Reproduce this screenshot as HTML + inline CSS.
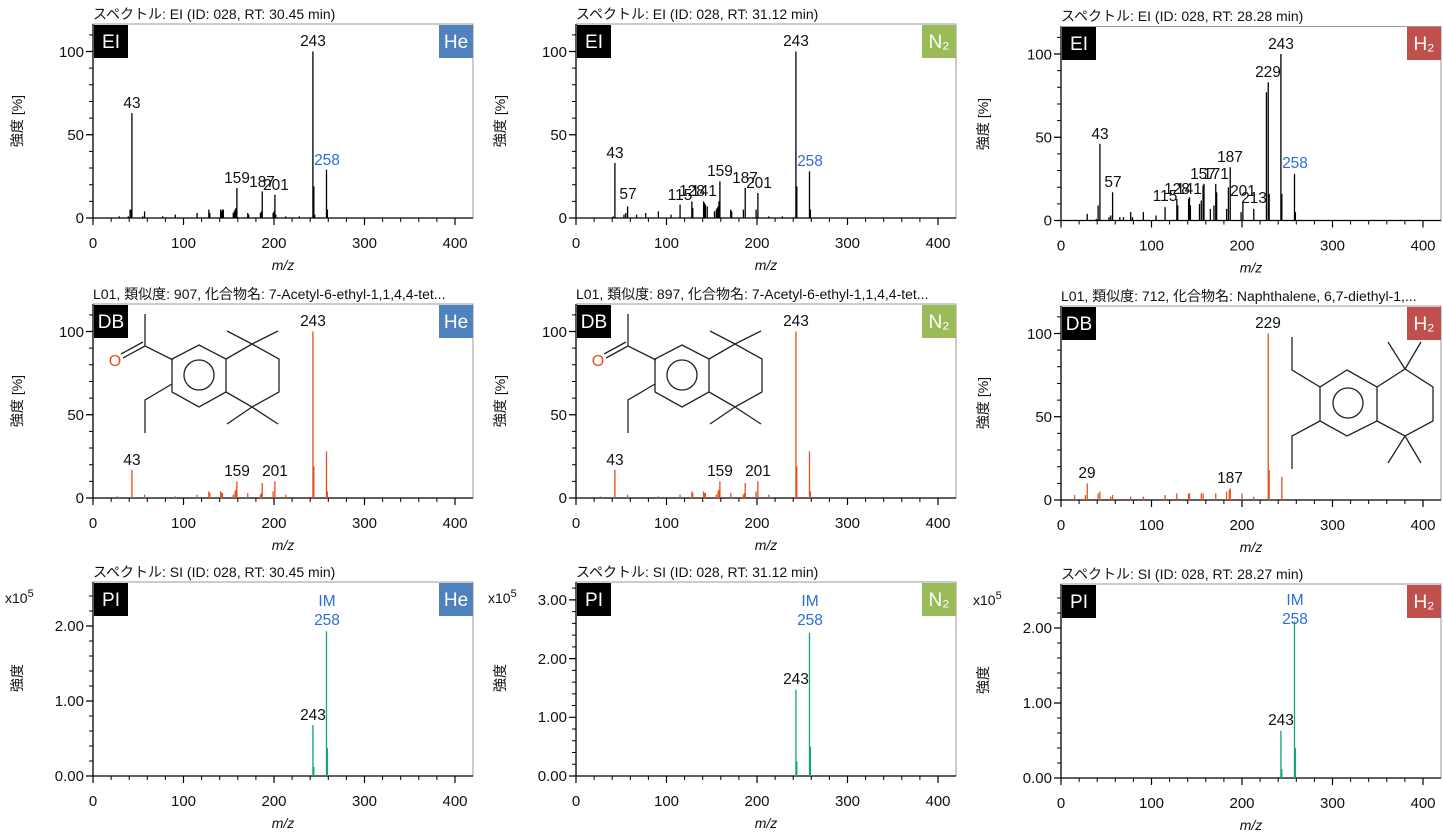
<!DOCTYPE html>
<html><head><meta charset="utf-8"><style>
body{margin:0;background:#fff;}
svg{display:block;font-family:"Liberation Sans","Noto Sans CJK JP",sans-serif;}
.t{font-size:14px;fill:#111;}
.tk{font-size:15px;fill:#111;}
.pl{font-size:15.5px;fill:#111;text-anchor:middle;}
.bl{fill:#2a6fdb;}
.bd{font-size:19px;fill:#fff;text-anchor:middle;}
.ax{font-size:14px;font-style:italic;fill:#111;text-anchor:middle;}
.yl{font-size:14px;fill:#111;}
.pk{fill:none;stroke-width:1.3;}
.pk path{vector-effect:non-scaling-stroke;}
.st{stroke:#222;stroke-width:1.3;fill:none;}
</style></head><body>
<svg width="1443" height="832" viewBox="0 0 1443 832">
<defs>
<g id="fx">
<rect x="0" y="-194" width="380" height="194" fill="none" stroke="#999" stroke-width="1"/>
<path d="M0 0H380M0 0V-194" stroke="#000" stroke-width="1.3"/>
<path d="M0 0v7M90.5 0v7M181 0v7M271.5 0v7M362 0v7" stroke="#000" stroke-width="1.2"/>
<path d="M18.1 0v4M36.2 0v4M54.3 0v4M72.4 0v4M108.6 0v4M126.7 0v4M144.8 0v4M162.9 0v4M199.1 0v4M217.2 0v4M235.3 0v4M253.4 0v4M289.6 0v4M307.7 0v4M325.8 0v4M343.9 0v4" stroke="#000" stroke-width="1"/>
</g>
<g id="yp">
<path d="M0 0h-7M0 -83.25h-7M0 -166.5h-7" stroke="#000" stroke-width="1.2"/>
<path d="M0 -16.65h-4M0 -33.3h-4M0 -49.95h-4M0 -66.6h-4M0 -99.9h-4M0 -116.55h-4M0 -133.2h-4M0 -149.85h-4M0 -183.15h-4" stroke="#000" stroke-width="1"/>
</g>
<g id="ys">
<path d="M0 0h-7M0 -75h-7M0 -150h-7" stroke="#000" stroke-width="1.2"/>
<path d="M0 -15h-4M0 -30h-4M0 -45h-4M0 -60h-4M0 -90h-4M0 -105h-4M0 -120h-4M0 -135h-4M0 -165h-4M0 -180h-4" stroke="#000" stroke-width="1"/>
</g>
<g id="ym">
<path d="M0 0h-7M0 -58.7h-7M0 -117.4h-7M0 -176.1h-7" stroke="#000" stroke-width="1.2"/>
<path d="M0 -11.74h-4M0 -23.48h-4M0 -35.22h-4M0 -46.96h-4M0 -70.44h-4M0 -82.18h-4M0 -93.92h-4M0 -105.66h-4M0 -129.14h-4M0 -140.88h-4M0 -152.62h-4M0 -164.36h-4M0 -187.84h-4" stroke="#000" stroke-width="1"/>
</g>
<g id="xl" class="tk" text-anchor="middle">
<text x="0" y="30">0</text><text x="90.5" y="30">100</text><text x="181" y="30">200</text><text x="271.5" y="30">300</text><text x="362" y="30">400</text>
</g>
<g id="s1">
<path d="M80 -38L52 -52V-84M52 -52L30 -40M50 -56L28 -44M79 -14L52 2V35"/>
<polygon points="106,-53 133,-39 133,-6 106,9 79,-6 79,-39"/>
<circle cx="106" cy="-23" r="15"/>
<path d="M133 -39L159 -54L186 -39V-6L159 9L133 -6M159 -54L134 -67M159 -54L185 -67M159 9L134 26M159 9L185 26"/>
</g>
</defs>

<!-- ROW 1 -->
<g transform="translate(93,218)"><use href="#fx"/><use href="#yp"/><use href="#xl"/>
<text class="tk" x="-9" y="5" text-anchor="end">0</text><text class="tk" x="-9" y="-78" text-anchor="end">50</text><text class="tk" x="-9" y="-161" text-anchor="end">100</text>
<text class="ax" x="190" y="52">m/z</text>
<g class="pk" transform="scale(0.905,-1.665)" stroke="#000"><path d="M29 0V1M39 0V1M41 0V5M42 0V5M43 0V63M55 0V1M57 0V4M77 0V1M91 0V2M115 0V3M128 0V5M129 0V3M141 0V5M142 0V4M143 0V5M144 0V5M155 0V3M156 0V4M157 0V5M158 0V6M159 0V18M171 0V3M172 0V2M185 0V3M186 0V4M187 0V16M199 0V3M200 0V4M201 0V14M202 0V2M213 0V1M228 0V1M243 0V100M244 0V19M245 0V2M258 0V29M259 0V5"/></g>
</g>
<g transform="translate(576,218)"><use href="#fx"/><use href="#yp"/><use href="#xl"/>
<text class="tk" x="-9" y="5" text-anchor="end">0</text><text class="tk" x="-9" y="-78" text-anchor="end">50</text><text class="tk" x="-9" y="-161" text-anchor="end">100</text>
<text class="ax" x="190" y="52">m/z</text>
<g class="pk" transform="scale(0.905,-1.665)" stroke="#000"><path d="M41 0V1M43 0V33M53 0V2M55 0V3M57 0V7M67 0V2M77 0V3M91 0V4M105 0V2M115 0V8M128 0V10M129 0V6M141 0V10M142 0V9M143 0V8M145 0V7M153 0V4M155 0V5M156 0V6M157 0V7M158 0V10M159 0V22M171 0V5M172 0V4M185 0V5M187 0V18M199 0V5M201 0V15M213 0V1M228 0V1M243 0V100M244 0V19M258 0V28M259 0V5"/></g>
</g>
<g transform="translate(1061,220.5)"><use href="#fx"/><use href="#yp"/><use href="#xl"/>
<text class="tk" x="-9" y="5" text-anchor="end">0</text><text class="tk" x="-9" y="-78" text-anchor="end">50</text><text class="tk" x="-9" y="-161" text-anchor="end">100</text>
<text class="ax" x="190" y="52">m/z</text>
<g class="pk" transform="scale(0.905,-1.665)" stroke="#000"><path d="M29 0V4M39 0V1M41 0V9M43 0V46M53 0V2M55 0V3M57 0V17M65 0V2M69 0V2M77 0V5M79 0V2M91 0V5M105 0V3M115 0V8M128 0V13M129 0V9M141 0V13M142 0V14M143 0V9M153 0V10M155 0V12M157 0V21M158 0V22M165 0V7M169 0V9M171 0V22M172 0V17M183 0V7M185 0V20M187 0V32M199 0V5M201 0V11M213 0V7M227 0V77M229 0V83M230 0V16M243 0V100M244 0V16M258 0V28M259 0V5"/></g>
</g>
<text class="t" x="93" y="19">スペクトル: EI (ID: 028, RT: 30.45 min)</text>
<text class="t" x="576" y="19">スペクトル: EI (ID: 028, RT: 31.12 min)</text>
<text class="t" x="1061" y="21">スペクトル: EI (ID: 028, RT: 28.28 min)</text>
<text class="pl" x="132" y="108">43</text><text class="pl" x="237" y="183">159</text><text class="pl" x="262" y="187">187</text><text class="pl" x="276" y="190">201</text><text class="pl" x="313" y="46">243</text><text class="pl bl" x="327" y="165">258</text>
<text class="pl" x="615" y="158">43</text><text class="pl" x="628" y="199">57</text><text class="pl" x="680" y="200">115</text><text class="pl" x="692" y="196">128</text><text class="pl" x="704" y="196">141</text><text class="pl" x="720" y="176">159</text><text class="pl" x="745" y="183">187</text><text class="pl" x="759" y="188">201</text><text class="pl" x="796" y="46">243</text><text class="pl bl" x="810" y="166">258</text>
<text class="pl" x="1100" y="139">43</text><text class="pl" x="1113" y="187">57</text><text class="pl" x="1165" y="201">115</text><text class="pl" x="1177" y="194">128</text><text class="pl" x="1189" y="194">141</text><text class="pl" x="1203" y="179">157</text><text class="pl" x="1216" y="179">171</text><text class="pl" x="1230" y="162">187</text><text class="pl" x="1243" y="196">201</text><text class="pl" x="1254" y="203">213</text><text class="pl" x="1268" y="77">229</text><text class="pl" x="1281" y="49">243</text><text class="pl bl" x="1295" y="168">258</text>

<!-- ROW 2 -->
<g transform="translate(93,498)"><use href="#fx"/><use href="#yp"/><use href="#xl"/>
<text class="tk" x="-9" y="5" text-anchor="end">0</text><text class="tk" x="-9" y="-78" text-anchor="end">50</text><text class="tk" x="-9" y="-161" text-anchor="end">100</text>
<text class="ax" x="190" y="52">m/z</text>
<g class="pk" transform="scale(0.905,-1.665)" stroke="#e0531c"><path d="M27 0V1M43 0V17M57 0V2M91 0V1M115 0V2M128 0V4M129 0V3M141 0V4M142 0V3M143 0V3M155 0V2M157 0V4M158 0V5M159 0V10M171 0V3M185 0V2M186 0V3M187 0V9M199 0V4M201 0V10M213 0V2M243 0V100M244 0V19M258 0V28M259 0V4"/></g>
</g>
<g transform="translate(576,498)"><use href="#fx"/><use href="#yp"/><use href="#xl"/>
<text class="tk" x="-9" y="5" text-anchor="end">0</text><text class="tk" x="-9" y="-78" text-anchor="end">50</text><text class="tk" x="-9" y="-161" text-anchor="end">100</text>
<text class="ax" x="190" y="52">m/z</text>
<g class="pk" transform="scale(0.905,-1.665)" stroke="#e0531c"><path d="M27 0V1M43 0V17M57 0V2M91 0V1M115 0V2M128 0V4M129 0V3M141 0V4M142 0V3M143 0V3M155 0V2M157 0V4M158 0V5M159 0V10M171 0V3M185 0V2M186 0V3M187 0V9M199 0V4M201 0V10M213 0V2M243 0V100M244 0V19M258 0V28M259 0V4"/></g>
</g>
<g transform="translate(1061,500)"><use href="#fx"/><use href="#yp"/><use href="#xl"/>
<text class="tk" x="-9" y="5" text-anchor="end">0</text><text class="tk" x="-9" y="-78" text-anchor="end">50</text><text class="tk" x="-9" y="-161" text-anchor="end">100</text>
<text class="ax" x="190" y="52">m/z</text>
<g class="pk" transform="scale(0.905,-1.665)" stroke="#e0531c"><path d="M15 0V3M27 0V3M29 0V10M41 0V4M43 0V5M55 0V2M57 0V3M77 0V2M91 0V2M115 0V3M128 0V4M141 0V4M142 0V4M155 0V4M157 0V4M171 0V4M183 0V5M186 0V6M187 0V7M200 0V4M213 0V2M229 0V100M230 0V18M244 0V14"/></g>
</g>
<text class="t" x="93" y="299">L01, 類似度: 907, 化合物名: 7-Acetyl-6-ethyl-1,1,4,4-tet...</text>
<text class="t" x="576" y="299">L01, 類似度: 897, 化合物名: 7-Acetyl-6-ethyl-1,1,4,4-tet...</text>
<text class="t" x="1061" y="301">L01, 類似度: 712, 化合物名: Naphthalene, 6,7-diethyl-1,...</text>
<text class="pl" x="132" y="465">43</text><text class="pl" x="237" y="476">159</text><text class="pl" x="275" y="476">201</text><text class="pl" x="313" y="326">243</text>
<text class="pl" x="615" y="465">43</text><text class="pl" x="720" y="476">159</text><text class="pl" x="758" y="476">201</text><text class="pl" x="796" y="326">243</text>
<text class="pl" x="1087" y="478">29</text><text class="pl" x="1230" y="483">187</text><text class="pl" x="1268" y="328">229</text>
<!-- structures -->
<g class="st" transform="translate(93,398)"><use href="#s1"/></g>
<g class="st" transform="translate(576,398)"><use href="#s1"/></g>
<text x="115" y="366" font-size="16" fill="#e0531c" text-anchor="middle">O</text>
<text x="598" y="366" font-size="16" fill="#e0531c" text-anchor="middle">O</text>
<g class="st">
<polygon points="1347,370 1377,387 1377,421 1347,436 1320,421 1320,387"/>
<circle cx="1348" cy="403" r="15"/>
<path d="M1377 387L1405 369L1433 387V421L1405 436L1377 421M1405 369L1388 342M1405 369L1421 342M1405 436L1388 463M1405 436L1421 463M1320 387L1292 370V337M1320 421L1292 436V469"/>
</g>

<!-- ROW 3 -->
<g transform="translate(93,776)"><use href="#fx"/><use href="#ys"/><use href="#xl"/>
<text class="tk" x="-9" y="5" text-anchor="end">0.00</text><text class="tk" x="-9" y="-70" text-anchor="end">1.00</text><text class="tk" x="-9" y="-145" text-anchor="end">2.00</text>
<text class="ax" x="190" y="52">m/z</text>
<g class="pk" transform="scale(0.905,-75)" stroke="#14a37f"><path d="M243 0V0.68M244 0V0.12M258 0V1.93M259 0V0.37"/></g>
</g>
<g transform="translate(576,776)"><use href="#fx"/><use href="#ym"/><use href="#xl"/>
<text class="tk" x="-9" y="5" text-anchor="end">0.00</text><text class="tk" x="-9" y="-54" text-anchor="end">1.00</text><text class="tk" x="-9" y="-112" text-anchor="end">2.00</text><text class="tk" x="-9" y="-171" text-anchor="end">3.00</text>
<text class="ax" x="190" y="52">m/z</text>
<g class="pk" transform="scale(0.905,-58.7)" stroke="#14a37f"><path d="M243 0V1.47M244 0V0.25M258 0V2.44M259 0V0.5"/></g>
</g>
<g transform="translate(1061,778)"><use href="#fx"/><use href="#ys"/><use href="#xl"/>
<text class="tk" x="-9" y="5" text-anchor="end">0.00</text><text class="tk" x="-9" y="-70" text-anchor="end">1.00</text><text class="tk" x="-9" y="-145" text-anchor="end">2.00</text>
<text class="ax" x="190" y="52">m/z</text>
<g class="pk" transform="scale(0.905,-75)" stroke="#14a37f"><path d="M243 0V0.63M244 0V0.12M258 0V2.09M259 0V0.4"/></g>
</g>
<text class="t" x="93" y="577">スペクトル: SI (ID: 028, RT: 30.45 min)</text>
<text class="t" x="576" y="577">スペクトル: SI (ID: 028, RT: 31.12 min)</text>
<text class="t" x="1061" y="579">スペクトル: SI (ID: 028, RT: 28.27 min)</text>
<text class="pl" x="313" y="720">243</text><text class="pl bl" x="327" y="606">IM</text><text class="pl bl" x="327" y="625">258</text>
<text class="pl" x="796" y="684">243</text><text class="pl bl" x="810" y="606">IM</text><text class="pl bl" x="810" y="625">258</text>
<text class="pl" x="1281" y="725">243</text><text class="pl bl" x="1295" y="605">IM</text><text class="pl bl" x="1295" y="624">258</text>
<text class="yl" x="5" y="603">x10<tspan font-size="11" dy="-6">5</tspan></text>
<text class="yl" x="488" y="603">x10<tspan font-size="11" dy="-6">5</tspan></text>
<text class="yl" x="973" y="605">x10<tspan font-size="11" dy="-6">5</tspan></text>

<!-- y labels -->
<text class="yl" transform="translate(22,121) rotate(-90)" text-anchor="middle">強度 [%]</text>
<text class="yl" transform="translate(505,121) rotate(-90)" text-anchor="middle">強度 [%]</text>
<text class="yl" transform="translate(988,124) rotate(-90)" text-anchor="middle">強度 [%]</text>
<text class="yl" transform="translate(22,401) rotate(-90)" text-anchor="middle">強度 [%]</text>
<text class="yl" transform="translate(505,401) rotate(-90)" text-anchor="middle">強度 [%]</text>
<text class="yl" transform="translate(988,403) rotate(-90)" text-anchor="middle">強度 [%]</text>
<text class="yl" transform="translate(22,678) rotate(-90)" text-anchor="middle">強度</text>
<text class="yl" transform="translate(505,678) rotate(-90)" text-anchor="middle">強度</text>
<text class="yl" transform="translate(988,680) rotate(-90)" text-anchor="middle">強度</text>

<!-- badges -->
<g>
<rect x="94" y="25" width="34" height="33" fill="#000"/><text class="bd" x="111" y="48">EI</text>
<rect x="577" y="25" width="34" height="33" fill="#000"/><text class="bd" x="594" y="48">EI</text>
<rect x="1062" y="27" width="34" height="33" fill="#000"/><text class="bd" x="1079" y="50">EI</text>
<rect x="94" y="305" width="34" height="33" fill="#000"/><text class="bd" x="111" y="328">DB</text>
<rect x="577" y="305" width="34" height="33" fill="#000"/><text class="bd" x="594" y="328">DB</text>
<rect x="1062" y="307" width="34" height="33" fill="#000"/><text class="bd" x="1079" y="330">DB</text>
<rect x="94" y="583" width="34" height="33" fill="#000"/><text class="bd" x="111" y="606">PI</text>
<rect x="577" y="583" width="34" height="33" fill="#000"/><text class="bd" x="594" y="606">PI</text>
<rect x="1062" y="585" width="34" height="33" fill="#000"/><text class="bd" x="1079" y="608">PI</text>

<rect x="439" y="25" width="34" height="33" fill="#4f81bd"/><text class="bd" x="456" y="48">He</text>
<rect x="439" y="305" width="34" height="33" fill="#4f81bd"/><text class="bd" x="456" y="328">He</text>
<rect x="439" y="583" width="34" height="33" fill="#4f81bd"/><text class="bd" x="456" y="606">He</text>
<rect x="922" y="25" width="34" height="33" fill="#9bbb59"/><text class="bd" x="939" y="48">N₂</text>
<rect x="922" y="305" width="34" height="33" fill="#9bbb59"/><text class="bd" x="939" y="328">N₂</text>
<rect x="922" y="583" width="34" height="33" fill="#9bbb59"/><text class="bd" x="939" y="606">N₂</text>
<rect x="1407" y="27" width="34" height="33" fill="#c0504d"/><text class="bd" x="1424" y="50">H₂</text>
<rect x="1407" y="307" width="34" height="33" fill="#c0504d"/><text class="bd" x="1424" y="330">H₂</text>
<rect x="1407" y="585" width="34" height="33" fill="#c0504d"/><text class="bd" x="1424" y="608">H₂</text>
</g>
</svg>
</body></html>
